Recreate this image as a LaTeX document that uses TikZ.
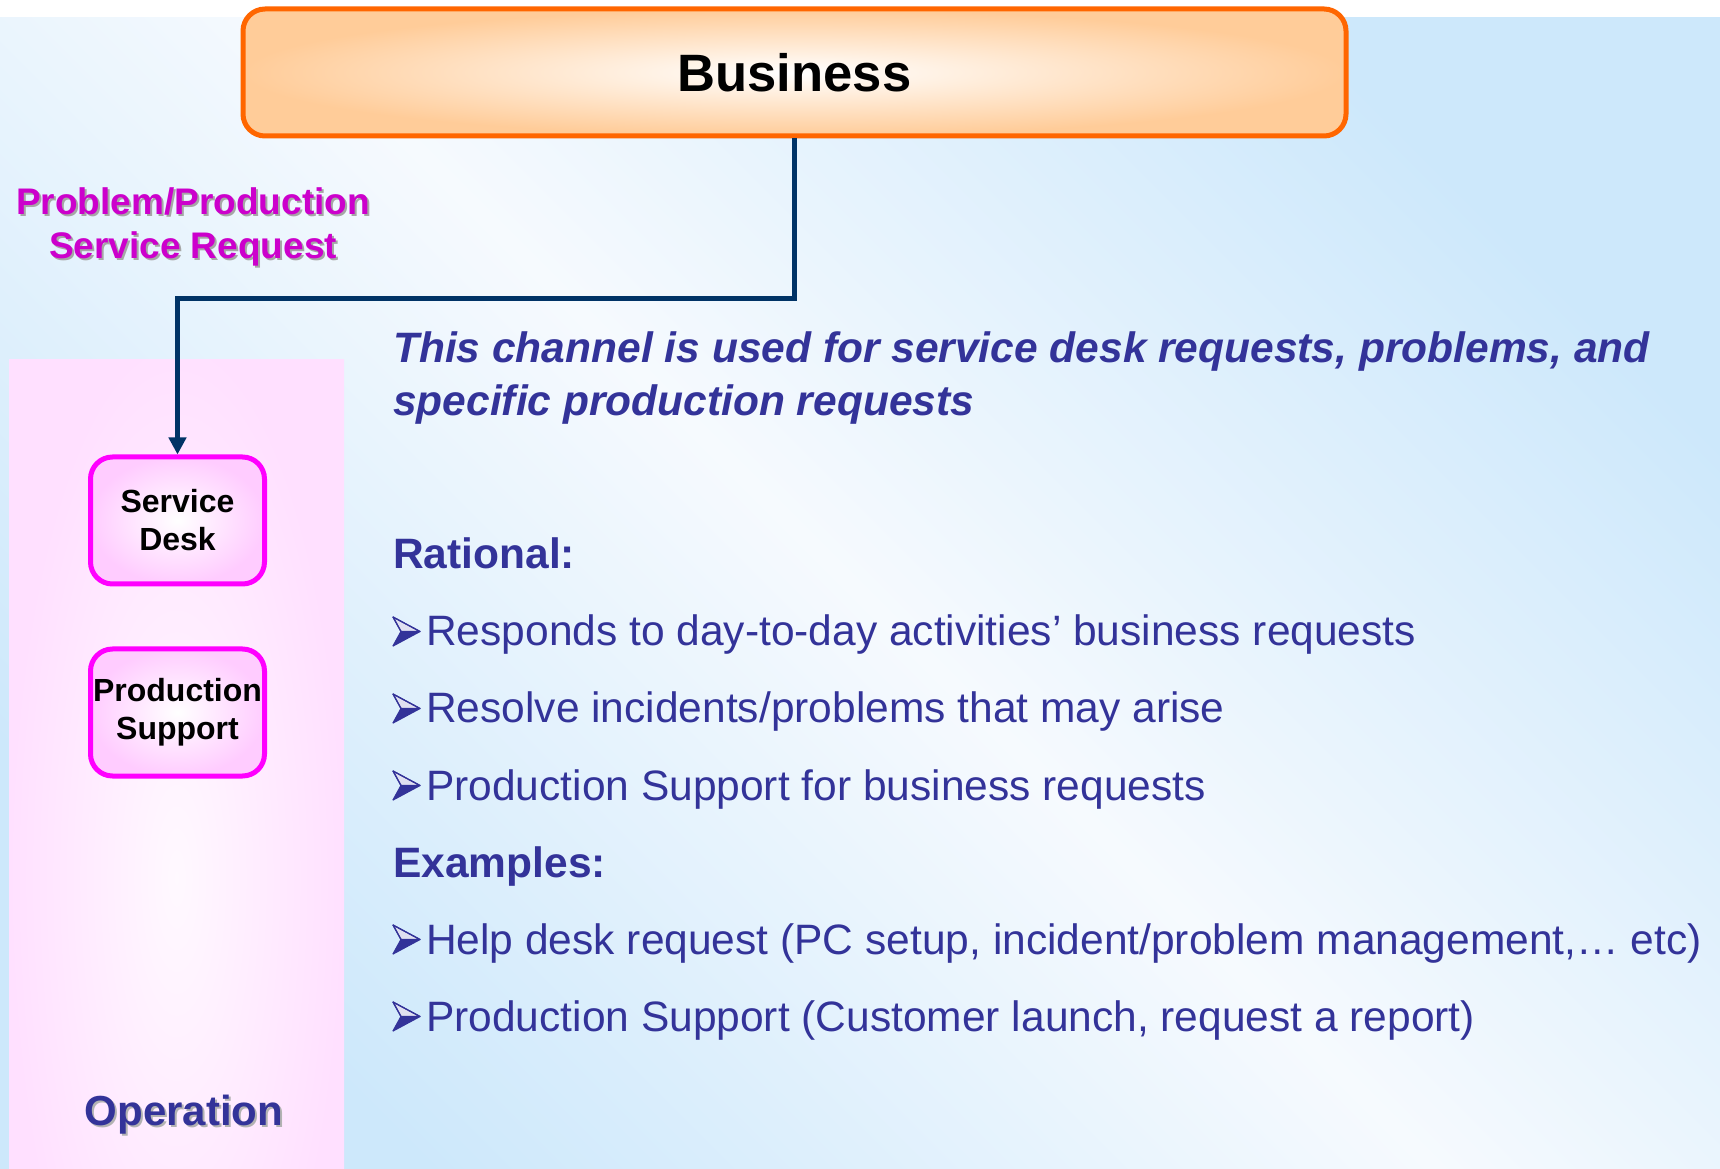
\documentclass[tikz,border=0pt]{standalone}
\usepackage{fontspec}
\setmainfont{Liberation Sans}
\usepackage{tikz}
\usetikzlibrary{arrows.meta, positioning}

\definecolor{navy}{HTML}{333399}
\definecolor{linkblue}{HTML}{003366}
\definecolor{reqpink}{HTML}{CC00CC}
\definecolor{bizorange}{HTML}{FF6600}
\definecolor{bizfill}{HTML}{FFCC99}
\definecolor{unitpink}{HTML}{FF00FF}
\definecolor{unitfill}{HTML}{FFCCFF}
\definecolor{panelpink}{HTML}{FFE0FF}
\definecolor{skyblue}{HTML}{CDE8FB}
\definecolor{paleblue}{HTML}{F6FAFE}

\newcommand{\bodysize}{\fontsize{42.5}{50}\selectfont}

\tikzset{
    bul/.pic={
        \fill[navy] (0,0) -- (27,14.5) -- (8,14.5) -- cycle;
        \filldraw[draw=navy, fill=white!85!navy, line width=1.2pt, line join=round]
            (0,29) -- (27,14.5) -- (8,14.5) -- cycle;
        \draw[navy, line width=1.2pt, line join=round] (0,0) -- (27,14.5) -- (0,29) -- (8,14.5) -- cycle;
    }
}

\begin{document}
\begin{tikzpicture}[x=1pt, y=1pt, >={Triangle[length=17pt,width=17pt]}]
    \tikzstyle{unit} = [draw=unitpink, line width=5pt, rounded corners=22pt, shade,
        inner color=white, outer color=unitfill, minimum width=174pt, minimum height=127pt,
        inner sep=0pt, align=center, font=\fontsize{32}{38}\selectfont\bfseries]
    \tikzstyle{line} = [anchor=base west, inner sep=0pt, text=navy, font=\bodysize]
    \tikzstyle{link} = [->, draw=linkblue, line width=4.5pt]
    \useasboundingbox (0,0) rectangle (1720,1168);
    \fill[white] (0,0) rectangle (1720,1168);
    \shade[top color=skyblue, bottom color=skyblue, middle color=paleblue, shading angle=-45]
        (0,0) rectangle (1720,1150);
    \begin{scope}
        \clip (9,0) rectangle (344,808);
        \shade[inner color=white!80!panelpink, outer color=panelpink] (9,-250) rectangle (344,830);
    \end{scope}

    \node [draw=bizorange, line width=5pt, rounded corners=22pt, shade, inner color=white,
        outer color=bizfill, minimum width=1103pt, minimum height=127pt,
        font=\fontsize{52.6}{60}\selectfont\bfseries] at (794.5,1095.5) (biz) {Business};
    \node [unit] at (177.5,647.5) (sd) {Service\\Desk};
    \node [unit, below=60pt of sd] (ps) {Production\\Support};
    \draw[link] (biz.south) -- ++(0,-160) -| (sd.north);

    \node [text=black!35, align=center, font=\fontsize{37}{44}\selectfont\bfseries] at (195,939) (reqshadow) {Problem/Production\\Service Request};
    \node [text=reqpink, align=center, font=\fontsize{37}{44}\selectfont\bfseries] at (193,941) (req) {Problem/Production\\Service Request};
    \node [anchor=base, text=black!30, font=\fontsize{42}{50}\selectfont\bfseries] at (186,41) (opshadow) {Operation};
    \node [anchor=base, text=navy, font=\fontsize{42}{50}\selectfont\bfseries] at (184,43) (ops) {Operation};

    \node [line, font=\bodysize\bfseries\itshape] at (393,805) (intro1) {This channel is used for service desk requests, problems, and};
    \node [line, font=\bodysize\bfseries\itshape] at (393,752) (intro2) {specific production requests};
    \node [line, font=\bodysize\bfseries] at (393,599) (rational) {Rational:};
    \node [line] at (426,522) (why1) {Responds to day-to-day activities’ business requests};
    \node [line] at (426,445) (why2) {Resolve incidents/problems that may arise};
    \node [line] at (426,368) (why3) {Production Support for business requests};
    \node [line, font=\bodysize\bfseries] at (393,291) (examples) {Examples:};
    \node [line] at (426,214) (ex1) {Help desk request (PC setup, incident/problem management,… etc)};
    \node [line] at (426,137) (ex2) {Production Support (Customer launch, request a report)};
    \pic at ([xshift=-33pt]why1.base west) {bul};
    \pic at ([xshift=-33pt]why2.base west) {bul};
    \pic at ([xshift=-33pt]why3.base west) {bul};
    \pic at ([xshift=-33pt]ex1.base west) {bul};
    \pic at ([xshift=-33pt]ex2.base west) {bul};
\end{tikzpicture}
\end{document}
